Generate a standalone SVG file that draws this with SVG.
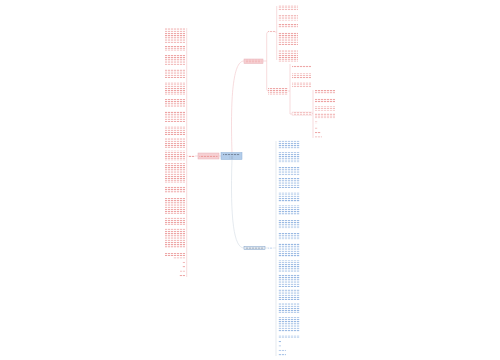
<svg xmlns="http://www.w3.org/2000/svg" width="500" height="360" viewBox="0 0 500 360">
<defs>
<pattern id="tp" width="3" height="2.2" patternUnits="userSpaceOnUse"><rect width="2.2" height="0.9" fill="#eb9a9a"/></pattern>
<pattern id="tb" width="3" height="2.2" patternUnits="userSpaceOnUse"><rect width="2.2" height="0.9" fill="#8fb2e0"/></pattern>
<pattern id="td" width="3" height="2.2" patternUnits="userSpaceOnUse"><rect width="2.2" height="0.9" fill="#6f7f94"/></pattern>
</defs>
<style>
.c{fill:none;stroke:#f2c4c7;stroke-width:0.6}
.cb{fill:none;stroke:#d3dbe4;stroke-width:0.6}
.p{fill:url(#tp)}
.b{fill:url(#tb)}
</style>
<rect width="500" height="360" fill="#ffffff"/>
<g id="connectors">
<path class="c" d="M221 156 H219"/>
<path class="c" d="M198 156 H195"/>
<path class="c" d="M188 156 H186.7"/>
<path class="c" d="M186.7 28 V277"/>
<path class="c" d="M232 153 C230 90 234 61 244 61"/>
<path class="cb" d="M232 159 C230 220 234 248 244 248"/>
<path class="c" d="M263 61 H266.7 M268 32 Q266.7 32 266.7 34 V89 Q266.7 91 268 91"/>
<path class="c" d="M275 32 H276.7 M276.7 6 V60"/>
<path class="c" d="M288 91 H290 M290 64 V114 H292"/>
<path class="c" d="M312 113.5 H313 M313 90 V138"/>
<path class="cb" d="M265 248 H268 M273 248 H276 M276 141 V356"/>
</g>
<g id="center">
<rect x="221" y="152.5" width="21" height="7" fill="#b3cdea" stroke="#8eafd6" stroke-width="0.5"/>
<rect x="223" y="153.6" width="17" height="2" fill="url(#td)"/>
<rect x="229.5" y="156.8" width="4" height="1.5" fill="url(#td)"/>
</g>
<g id="node-left">
<rect x="198" y="153" width="21" height="6" fill="#f6d0d3" stroke="#e8b0b6" stroke-width="0.5"/>
<rect x="199.5" y="155" width="18" height="2" class="p"/>
<rect x="188" y="155" width="7" height="2" class="p"/>
</g>
<g id="left-text">
<rect class="p" x="165" y="28" width="20" height="15"/>
<rect class="p" x="165" y="46" width="20" height="5"/>
<rect class="p" x="165" y="55" width="20" height="10"/>
<rect class="p" x="165" y="69" width="20" height="9"/>
<rect class="p" x="165" y="82" width="20" height="13"/>
<rect class="p" x="165" y="99" width="20" height="8"/>
<rect class="p" x="165" y="111" width="20" height="11"/>
<rect class="p" x="165" y="126" width="20" height="9"/>
<rect class="p" x="165" y="138" width="20" height="10"/>
<rect class="p" x="165" y="150.5" width="20" height="10"/>
<rect class="p" x="165" y="163" width="20" height="20"/>
<rect class="p" x="165" y="186" width="20" height="7"/>
<rect class="p" x="165" y="198" width="20" height="16"/>
<rect class="p" x="165" y="217" width="20" height="8"/>
<rect class="p" x="165" y="228" width="20" height="20"/>
<rect class="p" x="165" y="253" width="20" height="3"/>
<rect class="p" x="173" y="257.4" width="12" height="1.5"/>
<rect class="p" x="182" y="261.8" width="3" height="1.5"/>
<rect class="p" x="182" y="266.2" width="3" height="1.5"/>
<rect class="p" x="180" y="270.6" width="5" height="1.5"/>
<rect class="p" x="179" y="275" width="6" height="1.5"/>
</g>
<g id="node-upper">
<rect x="244" y="59" width="19" height="4.5" fill="#f6d0d3" stroke="#e8b0b6" stroke-width="0.5"/>
<rect class="p" x="245.5" y="59.8" width="16" height="2.5"/>
<rect class="p" x="268" y="30.8" width="7" height="2"/>
</g>
<g id="upper-text">
<rect class="p" x="278" y="5" width="20" height="5.5"/>
<rect class="p" x="278" y="15" width="20" height="5.5"/>
<rect class="p" x="278" y="24" width="20" height="3.5"/>
<rect class="p" x="278" y="32" width="20" height="13"/>
<rect class="p" x="278" y="50" width="20" height="12"/>
</g>
<g id="node-upper-sub">
<rect class="p" x="268" y="88" width="20" height="7"/>
<rect class="p" x="292" y="65" width="19" height="2.5"/>
<rect class="p" x="292" y="73" width="19" height="5.5"/>
<rect class="p" x="292" y="82" width="19" height="5.5"/>
<rect x="292" y="112" width="20" height="3.2" fill="none" stroke="#f2cdd0" stroke-width="0.4"/>
<rect class="p" x="292.5" y="112.4" width="19" height="2.4"/>
</g>
<g id="upper-sub-text">
<rect class="p" x="315" y="90" width="20" height="3.5"/>
<rect class="p" x="315" y="98" width="20" height="4.5"/>
<rect class="p" x="315" y="106" width="20" height="4.5"/>
<rect class="p" x="315" y="113" width="20" height="5.5"/>
<rect class="p" x="315" y="121.6" width="3" height="1.5"/>
<rect class="p" x="315" y="127.6" width="3" height="1.5"/>
<rect class="p" x="315" y="132" width="6" height="1.5"/>
<rect class="p" x="315" y="136.4" width="7" height="1.5"/>
</g>
<g id="node-lower">
<rect x="244" y="246.5" width="21" height="3" fill="#e4ebf3" stroke="#7f9fc8" stroke-width="0.5"/>
<rect x="245.5" y="247" width="18" height="2" fill="url(#td)"/>
<rect class="b" x="268" y="247" width="5" height="2"/>
</g>
<g id="lower-text">
<rect class="b" x="278" y="140" width="22" height="8.5"/>
<rect class="b" x="278" y="152" width="22" height="11"/>
<rect class="b" x="278" y="167" width="22" height="8.5"/>
<rect class="b" x="278" y="178" width="22" height="10"/>
<rect class="b" x="278" y="192" width="22" height="10"/>
<rect class="b" x="278" y="205" width="22" height="10"/>
<rect class="b" x="278" y="220" width="22" height="8.5"/>
<rect class="b" x="278" y="233" width="22" height="7"/>
<rect class="b" x="278" y="243" width="22" height="14"/>
<rect class="b" x="278" y="260" width="22" height="12"/>
<rect class="b" x="278" y="274" width="22" height="13"/>
<rect class="b" x="278" y="289" width="22" height="11"/>
<rect class="b" x="278" y="303" width="22" height="10"/>
<rect class="b" x="278" y="317" width="22" height="15"/>
<rect class="b" x="278" y="335" width="22" height="3"/>
<rect class="b" x="278" y="341" width="3" height="1.5"/>
<rect class="b" x="278" y="345.4" width="3" height="1.5"/>
<rect class="b" x="278" y="349.8" width="8" height="1.5"/>
<rect class="b" x="278" y="354.2" width="8" height="1.5"/>
</g>
</svg>
